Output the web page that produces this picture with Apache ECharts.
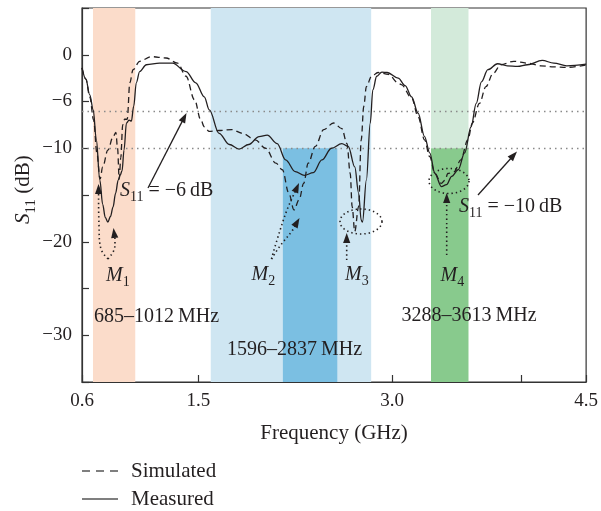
<!DOCTYPE html>
<html>
<head>
<meta charset="utf-8">
<script src="https://cdn.jsdelivr.net/npm/echarts@6/dist/echarts.min.js"></script>
<style>html,body{margin:0;padding:0;background:#fff}#c{width:601px;height:511px}</style>
</head>
<body>
<div id="c"></div>
<script>
// ---- data ----
const measFreq = [0.600,0.630,0.660,0.687,0.710,0.738,0.760,0.780,0.800,0.820,0.840,0.860,0.880,0.895,0.910,0.925,0.944,0.964,0.982,1.000,1.020,1.046,1.098,1.200,1.300,1.405,1.480,1.546,1.585,1.660,1.740,1.815,1.890,1.970,2.033,2.110,2.175,2.250,2.320,2.390,2.456,2.530,2.610,2.660,2.710,2.740,2.760,2.770,2.800,2.830,2.850,2.880,2.920,2.960,3.046,3.100,3.150,3.200,3.250,3.290,3.330,3.380,3.420,3.460,3.510,3.560,3.610,3.650,3.690,3.740,3.815,3.890,3.970,4.046,4.160,4.250,4.350,4.500];
const measS11  = [-1.4,-2.6,-4.3,-5.9,-9.0,-13.4,-16.0,-17.4,-17.9,-17.3,-16.3,-14.8,-13.4,-12.9,-12.4,-10.2,-7.3,-7.0,-7.1,-5.5,-3.0,-1.8,-1.07,-0.9,-0.9,-1.8,-3.0,-4.5,-5.9,-8.4,-9.6,-10.1,-9.6,-8.75,-8.6,-9.5,-11.25,-12.5,-12.9,-12.6,-11.25,-10.0,-9.5,-9.8,-12.0,-14.8,-17.7,-17.9,-13.4,-7.3,-3.75,-2.3,-1.85,-1.9,-2.5,-3.3,-4.5,-6.25,-8.75,-10.5,-12.7,-14.1,-13.9,-13.0,-12.3,-10.5,-7.7,-5.2,-2.9,-1.6,-0.96,-1.18,-1.25,-1.07,-0.6,-0.9,-1.18,-1.0];

const simFreq = [0.600,0.630,0.660,0.690,0.715,0.740,0.760,0.800,0.840,0.862,0.875,0.888,0.900,0.915,0.930,0.950,0.970,0.995,1.046,1.136,1.250,1.340,1.405,1.470,1.520,1.546,1.585,1.660,1.760,1.840,1.940,2.020,2.100,2.150,2.200,2.240,2.280,2.315,2.350,2.405,2.470,2.546,2.610,2.650,2.675,2.690,2.710,2.740,2.760,2.780,2.800,2.840,2.890,2.970,3.046,3.070,3.150,3.200,3.250,3.290,3.330,3.380,3.410,3.430,3.480,3.530,3.585,3.620,3.675,3.725,3.780,3.840,3.940,4.046,4.150,4.250,4.350,4.500];
const simS11  = [-1.4,-2.6,-4.5,-7.0,-10.5,-13.3,-12.0,-10.2,-8.8,-8.3,-10.0,-13.3,-11.0,-7.5,-6.9,-6.9,-3.0,-1.6,-0.7,-0.2,-0.35,-0.9,-2.3,-4.8,-7.0,-7.7,-8.2,-8.1,-8.0,-8.4,-9.1,-10.0,-11.6,-12.3,-14.8,-16.6,-15.5,-13.75,-11.6,-9.8,-8.0,-7.3,-7.9,-9.5,-12.7,-16.25,-18.9,-16.25,-9.1,-5.5,-3.4,-2.3,-1.9,-2.1,-3.0,-3.2,-4.6,-6.6,-9.1,-10.9,-12.7,-13.75,-13.4,-12.7,-12.5,-11.25,-9.1,-7.3,-5.2,-3.4,-2.0,-1.07,-0.7,-0.9,-1.18,-1.3,-1.35,-1.1];

const seriesNames = ['Simulated','Measured'];
const xTickValues = [0.6,1.0,1.5,2.0,2.5,3.0,3.5,4.0,4.5];
const xLabelValues = [0.6,1.5,3.0,4.5];
const yLabelValues = [0,-5,-10,-20,-30];
const yLabelTexts  = ['0','\u22126','\u221210','\u221220','\u221230'];
const refLevels = [-6,-10];
const bandM1 = [0.685,1.012];
const bandM23 = [1.596,2.837];
const bandM23Deep = [2.154,2.575];
const bandM4 = [3.30,3.59];
const bandTexts = ['685\u20131012\u2009MHz','1596\u20132837\u2009MHz','3288\u20133613\u2009MHz'];

// ---- helpers ----
const FONT = '"Liberation Serif","Times New Roman",serif';
const INK = '#231f20';
const ZT = 100;
const mctx = document.createElement('canvas').getContext('2d');
function tw(t, size, italic){ mctx.font = (italic?'italic ':'') + size + 'px ' + FONT; return mctx.measureText(t).width; }
// pieces: [{t, i (italic), s (subscript)}], x=left, b=baseline
function richLabel(x, b, pieces, size){
  size = size || 20; const sub = Math.round(size*0.7);
  const children = []; let cx = 0;
  pieces.forEach(p => {
    const fs = p.s ? sub : size;
    children.push({type:'text', z:ZT, x: cx, y: (p.s ? size*0.25 : 0) - 0.3*fs,
      style:{text:p.t, font:(p.i?'italic ':'') + fs + 'px ' + FONT, fill:INK, align:'left', verticalAlign:'middle', textAlign:'left', textVerticalAlign:'middle'}});
    cx += tw(p.t, fs, p.i);
  });
  return {type:'group', x:x, y:b, z:ZT, children:children};
}
const solidSt = {stroke:INK, lineWidth:1.3, fill:null};
const dotSt = {stroke:INK, lineWidth:1.6, lineDash:[1.4,3], fill:null};
function head(px,py,tx,ty){
  const a = Math.atan2(ty-py, tx-px), L = 10, W = 3.6;
  const bx = tx - L*Math.cos(a), by = ty - L*Math.sin(a);
  const nx = -Math.sin(a), ny = Math.cos(a);
  return {type:'polygon', z:ZT, shape:{points:[[tx,ty],[bx+W*nx,by+W*ny],[bx-W*nx,by-W*ny]]}, style:{fill:INK}};
}
function arrowLine(pts, st){
  const n = pts.length; const [px,py] = pts[n-2]; const [tx,ty] = pts[n-1];
  const a = Math.atan2(ty-py, tx-px);
  const end = [tx - 8*Math.cos(a), ty - 8*Math.sin(a)];
  const p2 = pts.slice(0, n-1).concat([end]);
  return [{type:'polyline', z:ZT, shape:{points:p2, smooth:0.4}, style:st}, head(px,py,tx,ty)];
}
function ellipse(cx, cy, rx, ry){
  const pts = [];
  for (let k=0;k<=60;k++){ const t = k/60*Math.PI*2; pts.push([cx+rx*Math.cos(t), cy+ry*Math.sin(t)]); }
  return {type:'polyline', z:ZT, shape:{points:pts}, style:dotSt};
}

const yName = richLabel(0, 0, [{t:'S',i:true},{t:'11',s:true},{t:' (dB)'}], 21);
yName.x = 30; yName.y = 224; yName.rotation = Math.PI/2;

const graphics = [].concat(
  arrowLine([[148,188],[186.5,113]], solidSt),
  arrowLine([[478,195],[517,151.5]], solidSt),
  // M1
  arrowLine([[108,259],[101,249],[99,225],[98.5,184]], dotSt),
  arrowLine([[108,259],[114,250],[115,240],[113.5,228]], dotSt),
  // M2
  arrowLine([[271.5,259],[277,240],[287,210],[299,183]], dotSt),
  arrowLine([[271.5,259],[280,246],[292,231],[299.5,218]], dotSt),
  // M3
  [ellipse(361,221.5,21,12.5)],
  arrowLine([[346.7,260],[346.7,245],[346.7,233]], dotSt),
  // M4
  [ellipse(449,181,20,12.5)],
  arrowLine([[446.7,255],[446.7,225],[446.7,193]], dotSt),
  [
    richLabel(120, 197, [{t:'S',i:true},{t:'11',s:true},{t:' = \u22126\u2009dB'}]),
    richLabel(459, 213, [{t:'S',i:true},{t:'11',s:true},{t:' = \u221210\u2009dB'}]),
    richLabel(106, 282, [{t:'M',i:true},{t:'1',s:true}]),
    richLabel(251.5, 281, [{t:'M',i:true},{t:'2',s:true}]),
    richLabel(345, 281, [{t:'M',i:true},{t:'3',s:true}]),
    richLabel(440.5, 282, [{t:'M',i:true},{t:'4',s:true}]),
    richLabel(94, 323, [{t:bandTexts[0]}]),
    richLabel(227, 356, [{t:bandTexts[1]}]),
    richLabel(401.5, 322, [{t:bandTexts[2]}]),
    yName
  ]
);

const chart = echarts.init(document.getElementById('c'), null, {renderer:'canvas'});
const lineBase = {type:'line', symbol:'none', showSymbol:false, smooth:0.35, smoothMonotone:'x', z:5};
chart.setOption({
  animation:false,
  backgroundColor:'#fff',
  textStyle:{fontFamily:FONT},
  grid:{left:82, right:12, top:8, bottom:129, show:true, borderColor:'#333', borderWidth:1.2, backgroundColor:'transparent'},
  legend:{
    orient:'vertical', left:82, top:460, height:120, padding:0, itemWidth:36, itemHeight:1.6, itemGap:6,
    textStyle:{fontFamily:FONT, fontSize:21, lineHeight:22, color:INK, padding:[0,0,0,8]},
    data:[
      {name:seriesNames[0], icon:'path://M0,0H8V1H0Z M14,0H22V1H14Z M28,0H36V1H28Z', itemStyle:{color:'#000'}},
      {name:seriesNames[1], icon:'path://M0,0H36V1H0Z', itemStyle:{color:'#000'}}
    ]
  },
  xAxis:{
    type:'value', min:0.6, max:4.5,
    name:'Frequency (GHz)', nameLocation:'middle', nameGap:41,
    nameTextStyle:{fontFamily:FONT, fontSize:21, color:INK},
    axisLine:{onZero:false, lineStyle:{color:'#333', width:1.2}},
    axisTick:{inside:true, length:7, customValues:xTickValues, lineStyle:{color:'#333', width:1.2}},
    axisLabel:{customValues:xLabelValues, formatter:v=>Number(v).toFixed(1), fontFamily:FONT, fontSize:19, color:INK, margin:10},
    splitLine:{show:false}
  },
  yAxis:{
    type:'value', min:-35, max:5, interval:5,
    axisLine:{onZero:false, lineStyle:{color:'#333', width:1.2}},
    axisTick:{inside:true, length:7, lineStyle:{color:'#333', width:1.2}},
    axisLabel:{fontFamily:FONT, fontSize:19, color:INK, margin:10,
      formatter:v=>{const k = yLabelValues.indexOf(v); return k>=0 ? yLabelTexts[k] : '';}},
    splitLine:{show:false}
  },
  series:[
    Object.assign({}, lineBase, {
      name:seriesNames[0],
      data:simFreq.map((f,i)=>[f, simS11[i]]),
      lineStyle:{color:INK, width:1.3, type:[6,4]}, itemStyle:{color:INK},
      markArea:{silent:true, z:1, data:[
        [{xAxis:bandM1[0], yAxis:-35, itemStyle:{color:'#fbdcca'}}, {xAxis:bandM1[1], yAxis:5}],
        [{xAxis:bandM23[0], yAxis:-35, itemStyle:{color:'#cfe6f2'}}, {xAxis:bandM23[1], yAxis:5}],
        [{xAxis:bandM23Deep[0], yAxis:-35, itemStyle:{color:'#7bbfe2'}}, {xAxis:bandM23Deep[1], yAxis:-10}],
        [{xAxis:bandM4[0], yAxis:-10, itemStyle:{color:'#d3eada'}}, {xAxis:bandM4[1], yAxis:5}],
        [{xAxis:bandM4[0], yAxis:-35, itemStyle:{color:'#88ca8d'}}, {xAxis:bandM4[1], yAxis:-10}]
      ]},
      markLine:{silent:true, symbol:'none', z:3, label:{show:false},
        lineStyle:{color:'#8a8a8a', type:[1.5,4], width:1.3},
        data:refLevels.map(v=>({yAxis:v}))}
    }),
    Object.assign({}, lineBase, {
      name:seriesNames[1],
      data:measFreq.map((f,i)=>[f, measS11[i]]),
      lineStyle:{color:INK, width:1.3, type:'solid'}, itemStyle:{color:INK}
    })
  ],
  graphic:graphics
});
</script>
</body>
</html>
